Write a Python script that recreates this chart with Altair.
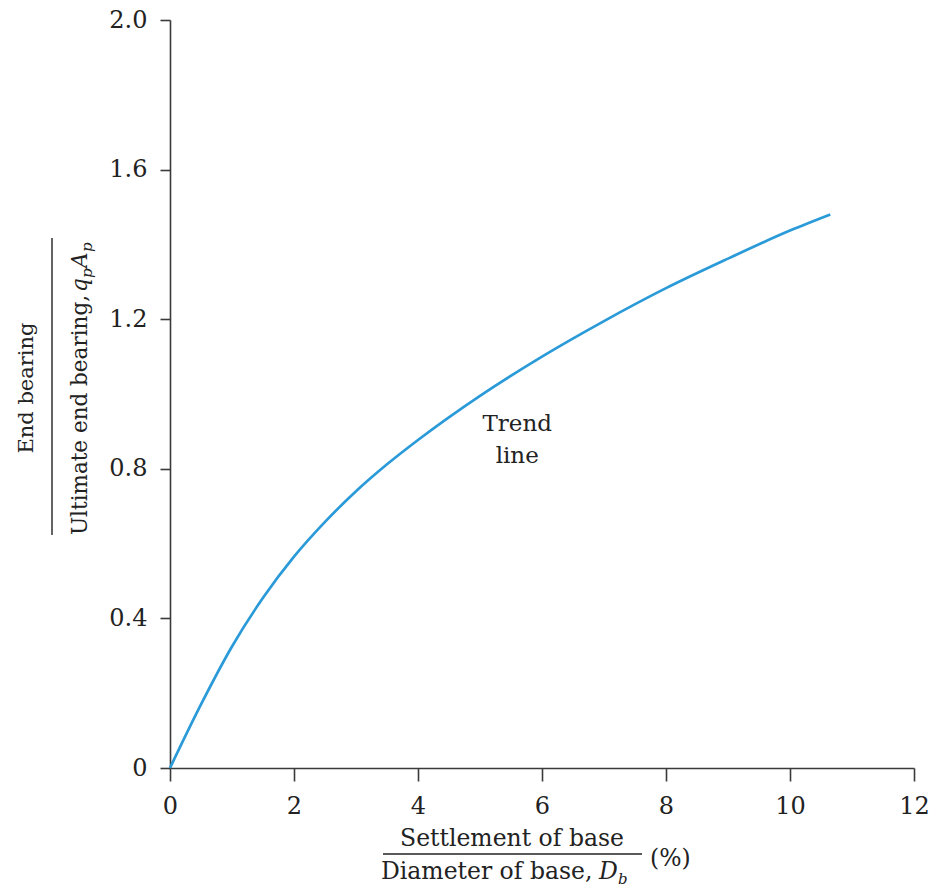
import altair as alt
import pandas as pd

# ---- data ----
settlement_pct = [0.0, 0.5, 1.0, 1.5, 2.0, 2.5, 3.0, 3.5, 4.0, 5.0,
                  6.0, 7.0, 8.0, 9.0, 10.0, 10.65]
bearing_ratio = [0.0, 0.17, 0.325, 0.455, 0.565, 0.658, 0.74, 0.812, 0.877, 0.995,
                 1.1, 1.195, 1.283, 1.362, 1.437, 1.48]

x_ticks = [0, 2, 4, 6, 8, 10, 12]
y_ticks = [0, 0.4, 0.8, 1.2, 1.6, 2.0]

annot_text = ["Trend", "line"]
annot_x = [5.6, 5.6]
annot_y = [0.92, 0.835]

SERIF = "DejaVu Serif"
TXT = "#222222"
AX = "#3a3a3a"
LINE = "#2a9ad8"

W, H = 744, 748
LEFT, TOP = 170, 20

x_axis = alt.Axis(values=x_ticks, title=None, grid=False,
                  domainColor=AX, domainWidth=1.6, tickColor=AX,
                  tickWidth=1.6, tickSize=13, labelFont=SERIF,
                  labelFontSize=24, labelColor=TXT, labelPadding=13,
                  labelFlush=False, labelOverlap=False,
                  labelExpr="format(datum.value, 'd')")
y_axis = alt.Axis(values=y_ticks, title=None, grid=False,
                  domainColor=AX, domainWidth=1.6, tickColor=AX,
                  tickWidth=1.6, tickSize=10, labelFont=SERIF,
                  labelFontSize=24, labelColor=TXT, labelPadding=13,
                  labelFlush=False, labelOverlap=False,
                  labelExpr="datum.value == 0 ? '0' : format(datum.value, '.1f')")
x_scale = alt.Scale(domain=[0, 12], nice=False)
y_scale = alt.Scale(domain=[0, 2], nice=False)

df = pd.DataFrame({"s": settlement_pct, "r": bearing_ratio})

line = alt.Chart(df).mark_line(
    color=LINE, strokeWidth=2.7, interpolate="monotone"
).encode(
    x=alt.X("s:Q", scale=x_scale, axis=x_axis),
    y=alt.Y("r:Q", scale=y_scale, axis=y_axis),
)

annot = alt.Chart(pd.DataFrame({"t": annot_text, "x": annot_x, "y": annot_y})).mark_text(
    font=SERIF, fontSize=23, color=TXT, align="center", baseline="middle"
).encode(
    x=alt.X("x:Q", scale=x_scale, axis=x_axis),
    y=alt.Y("y:Q", scale=y_scale, axis=y_axis),
    text="t:N",
)

one = pd.DataFrame({"k": [0]})


def txt(text, px, py, size=23.5, italic=False, align="left", baseline="alphabetic", angle=0):
    kw = dict(font=SERIF, fontSize=size, color=TXT, align=align,
              baseline=baseline, text=text)
    if italic:
        kw["fontStyle"] = "italic"
    if angle:
        kw["angle"] = angle
    return alt.Chart(one).mark_text(**kw).encode(
        x=alt.value(px - LEFT), y=alt.value(py - TOP))


def hrule(x1, x2, py):
    return alt.Chart(one).mark_rule(color=TXT, strokeWidth=1.4).encode(
        x=alt.value(x1 - LEFT), x2=alt.value(x2 - LEFT), y=alt.value(py - TOP))


def vrule(px, y1, y2):
    return alt.Chart(one).mark_rule(color=TXT, strokeWidth=1.4).encode(
        x=alt.value(px - LEFT), y=alt.value(y1 - TOP), y2=alt.value(y2 - TOP))


# x-axis title as a fraction
xt = [
    txt("Settlement of base", 512, 846, align="center"),
    hrule(383, 642, 854),
    txt("Diameter of base,", 381, 879),
    txt("D", 599, 879, italic=True),
    txt("b", 618, 884, size=15, italic=True),
    txt("(%)", 650, 866),
]

# y-axis title as a fraction (rotated, reads upward)
yt = [
    txt("End bearing", 27, 388, size=21, align="center", baseline="middle", angle=270),
    vrule(52, 238, 535),
    txt("Ultimate end bearing,", 87, 535, size=21.5, angle=270),
    txt("q", 87, 292, size=21.5, italic=True, angle=270),
    txt("p", 92, 278, size=15, italic=True, angle=270),
    txt("A", 87, 268, size=21.5, italic=True, angle=270),
    txt("p", 92, 252, size=15, italic=True, angle=270),
]

chart = alt.layer(line, annot, *xt, *yt).properties(
    width=W, height=H,
    padding={"left": LEFT, "top": TOP, "right": 938 - LEFT - W, "bottom": 888 - TOP - H},
    autosize=alt.AutoSizeParams(type="none"),
    background="white",
).configure_view(strokeWidth=0)

chart.save("out.html", embed_options={"renderer": "svg", "actions": False})
